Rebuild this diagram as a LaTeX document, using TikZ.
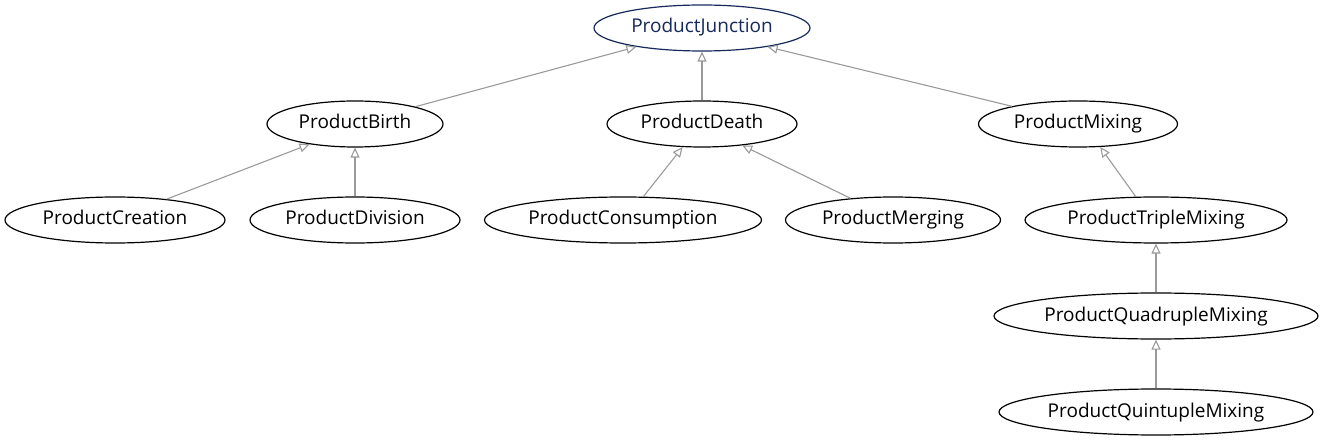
\documentclass[tikz,border=0pt]{standalone}
\usepackage{fontspec}
\setmainfont{Open Sans}
\usetikzlibrary{shapes.geometric,arrows.meta}
\definecolor{navy}{HTML}{16295A}
\definecolor{edgegray}{HTML}{9A9A9A}
\begin{document}
\begin{tikzpicture}[x=1pt,y=-1pt,
  cls/.style={ellipse,draw=black,line width=1.2pt,inner sep=0pt,minimum height=46pt,text height=14pt,text depth=4pt,font=\fontsize{19}{22}\selectfont},
  root/.style={cls,draw=navy,text=navy},
  inh/.style={draw=edgegray,line width=1.1pt,-{Triangle[open,length=10pt,width=9pt]}}]
\useasboundingbox (0,0) rectangle (1324,443);
\node[root,minimum width=216pt] (junction) at (702,28) {ProductJunction};
\node[cls,minimum width=176pt] (birth) at (355,124) {ProductBirth};
\node[cls,minimum width=190pt] (death) at (702,124) {ProductDeath};
\node[cls,minimum width=199pt] (mixing) at (1078,124) {ProductMixing};
\node[cls,minimum width=220pt] (creation) at (115,220) {ProductCreation};
\node[cls,minimum width=210pt] (division) at (355,220) {ProductDivision};
\node[cls,minimum width=277pt] (consumption) at (623,220) {ProductConsumption};
\node[cls,minimum width=215pt] (merging) at (893,220) {ProductMerging};
\node[cls,minimum width=262pt] (triple) at (1156,220) {ProductTripleMixing};
\node[cls,minimum width=324pt] (quadruple) at (1156,316) {ProductQuadrupleMixing};
\node[cls,minimum width=314pt] (quintuple) at (1156,412) {ProductQuintupleMixing};
\draw[inh] (birth.16) -- (junction.196);
\draw[inh] (death.north) -- (junction.south);
\draw[inh] (mixing.165) -- (junction.344);
\draw[inh] (creation.22) -- (birth.204);
\draw[inh] (division.north) -- (birth.south);
\draw[inh] (consumption.49) -- (death.230);
\draw[inh] (merging.153) -- (death.332);
\draw[inh] (triple.131) -- (mixing.314);
\draw[inh] (quadruple.north) -- (triple.south);
\draw[inh] (quintuple.north) -- (quadruple.south);
\end{tikzpicture}
\end{document}
